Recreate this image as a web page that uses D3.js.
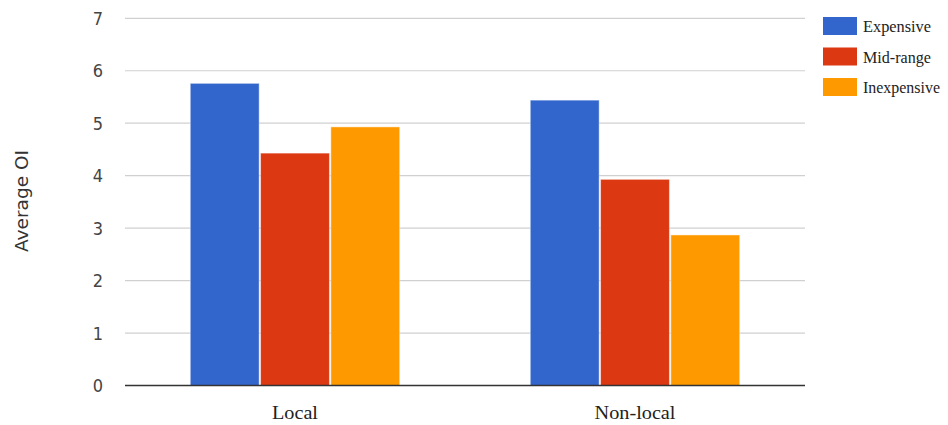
<!DOCTYPE html>
<html>
<head>
<meta charset="utf-8">
<script src="https://cdn.jsdelivr.net/npm/d3@7"></script>
<style>
  html, body { margin: 0; padding: 0; background: #fff; }
  svg { display: block; }
</style>
</head>
<body>
<svg id="chart" width="948" height="425"></svg>
<script>
// Average OI by location and price level
const categories = ["Local", "Non-local"];
const seriesNames = ["Expensive", "Mid-range", "Inexpensive"];
const expensive = [5.76, 5.44];
const midRange = [4.43, 3.93];
const inexpensive = [4.93, 2.87];
const yTicks = [0, 1, 2, 3, 4, 5, 6, 7];
const colors = ["#3366cc", "#dc3912", "#ff9900"];

const seriesValues = [expensive, midRange, inexpensive];
const rows = categories.map((c, i) => ({
  category: c,
  values: seriesNames.map((s, j) => ({ series: s, value: seriesValues[j][i], color: colors[j] }))
}));

const svg = d3.select("#chart");
const plot = { left: 125, right: 805, top: 18.3, bottom: 385.5 };

const x0 = d3.scaleBand()
  .domain(categories)
  .range([plot.left, plot.right])
  .paddingInner(0.384)
  .paddingOuter(0.192);

const x1 = d3.scaleBand()
  .domain(seriesNames)
  .range([0, x0.bandwidth()])
  .paddingInner(0.02);

const y = d3.scaleLinear()
  .domain([0, 7])
  .range([plot.bottom, plot.top]);

// horizontal gridlines
svg.append("g")
  .selectAll("line")
  .data(yTicks.filter(t => t !== 0))
  .join("line")
  .attr("x1", plot.left)
  .attr("x2", plot.right)
  .attr("y1", d => y(d))
  .attr("y2", d => y(d))
  .attr("stroke", "#d0d0d0")
  .attr("stroke-width", 1.2);

// y-axis tick labels
const yAxis = d3.axisLeft(y).tickValues(yTicks).tickSize(0).tickPadding(0).tickFormat(d3.format("d"));
const yg = svg.append("g")
  .attr("transform", `translate(${plot.left - 22},0)`)
  .call(yAxis);
yg.select(".domain").remove();
yg.selectAll("text")
  .attr("font-family", "'DejaVu Sans', sans-serif")
  .attr("font-size", 18)
  .attr("fill", "#444")
  .attr("dy", "0.34em")
  .attr("transform", "scale(0.9,1)")
  .attr("x", 0);

// bars
const groups = svg.append("g")
  .selectAll("g")
  .data(rows)
  .join("g")
  .attr("transform", d => `translate(${x0(d.category)},0)`);

groups.selectAll("rect")
  .data(d => d.values)
  .join("rect")
  .attr("x", d => x1(d.series))
  .attr("width", x1.bandwidth())
  .attr("y", d => y(d.value))
  .attr("height", d => y(0) - y(d.value))
  .attr("fill", d => d.color)
  .attr("stroke", "#ffffff")
  .attr("stroke-opacity", 0.45)
  .attr("stroke-width", 1);

// baseline
svg.append("line")
  .attr("x1", plot.left)
  .attr("x2", plot.right)
  .attr("y1", y(0))
  .attr("y2", y(0))
  .attr("stroke", "#333")
  .attr("stroke-width", 1.5);

// category labels
const xAxis = d3.axisBottom(x0).tickSize(0).tickPadding(0);
const xg = svg.append("g")
  .attr("transform", `translate(0,${plot.bottom})`)
  .call(xAxis);
xg.select(".domain").remove();
const catWidths = { "Local": 46, "Non-local": 81 };
xg.selectAll("text")
  .attr("font-family", "'Liberation Serif', serif")
  .attr("font-size", 19)
  .attr("fill", "#222")
  .attr("y", 33)
  .attr("dy", 0)
  .attr("textLength", d => catWidths[d])
  .attr("lengthAdjust", "spacingAndGlyphs");

// y-axis title
svg.append("text")
  .attr("transform", "translate(28,201) rotate(-90)")
  .attr("text-anchor", "middle")
  .attr("font-family", "'DejaVu Sans', sans-serif")
  .attr("font-size", 17)
  .attr("fill", "#333")
  .attr("textLength", 102)
  .attr("lengthAdjust", "spacingAndGlyphs")
  .text("Average OI");

// legend
const legendWidths = { "Expensive": 68, "Mid-range": 68, "Inexpensive": 77 };
const legend = svg.append("g")
  .selectAll("g")
  .data(seriesNames)
  .join("g")
  .attr("transform", (d, i) => `translate(823,${17 + i * 30.5})`);

legend.append("rect")
  .attr("width", 34)
  .attr("height", 18)
  .attr("fill", (d, i) => colors[i]);

legend.append("text")
  .attr("x", 40)
  .attr("y", 15)
  .attr("font-family", "'Liberation Serif', serif")
  .attr("font-size", 16.5)
  .attr("fill", "#222")
  .attr("textLength", d => legendWidths[d])
  .attr("lengthAdjust", "spacingAndGlyphs")
  .text(d => d);
</script>
</body>
</html>
